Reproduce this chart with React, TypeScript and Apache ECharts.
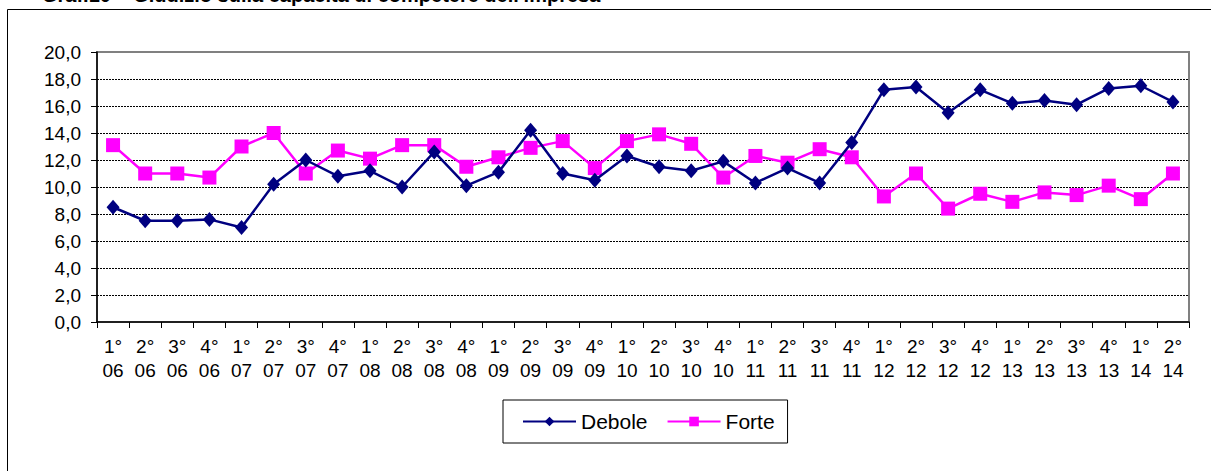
import React, { useEffect, useRef } from "react";
import * as echarts from "echarts";

const categories = [
  "1°\n06", "2°\n06", "3°\n06", "4°\n06",
  "1°\n07", "2°\n07", "3°\n07", "4°\n07",
  "1°\n08", "2°\n08", "3°\n08", "4°\n08",
  "1°\n09", "2°\n09", "3°\n09", "4°\n09",
  "1°\n10", "2°\n10", "3°\n10", "4°\n10",
  "1°\n11", "2°\n11", "3°\n11", "4°\n11",
  "1°\n12", "2°\n12", "3°\n12", "4°\n12",
  "1°\n13", "2°\n13", "3°\n13", "4°\n13",
  "1°\n14", "2°\n14",
];

const debole = [
  8.5, 7.5, 7.5, 7.6, 7.0, 10.2, 12.0, 10.8, 11.2, 10.0, 12.6, 10.1,
  11.1, 14.2, 11.0, 10.5, 12.3, 11.5, 11.2, 11.9, 10.3, 11.4, 10.3, 13.3,
  17.2, 17.4, 15.5, 17.2, 16.2, 16.4, 16.1, 17.3, 17.5, 16.3,
];

const forte = [
  13.1, 11.0, 11.0, 10.7, 13.0, 14.0, 11.0, 12.7, 12.1, 13.1, 13.1, 11.5,
  12.2, 12.9, 13.4, 11.4, 13.4, 13.9, 13.2, 10.7, 12.3, 11.8, 12.8, 12.2,
  9.3, 11.0, 8.4, 9.5, 8.9, 9.6, 9.4, 10.1, 9.1, 11.0,
];

const seriesNames = ["Debole", "Forte"];
const titleText = "Graf.10 – Giudizio sulla capacità di competere dell'impresa";

export default function App() {
  const ref = useRef<HTMLDivElement>(null);

  useEffect(() => {
    if (!ref.current) return;
    const chart = echarts.init(ref.current, null, { renderer: "svg" });
    const font = "Arial, 'Liberation Sans', sans-serif";
    chart.setOption({
      animation: false,
      backgroundColor: "#ffffff",
      textStyle: { fontFamily: font },
      graphic: [
        {
          type: "rect",
          shape: { x: 7.5, y: 9.5, width: 1400, height: 600 },
          style: { fill: "none", stroke: "#000", lineWidth: 1 },
          silent: true,
        },
        {
          type: "text",
          x: 42,
          y: 5,
          style: {
            text: titleText,
            font: "bold 20px Arial, 'Liberation Sans', sans-serif",
            fill: "#000",
            verticalAlign: "bottom",
          },
          silent: true,
        },
      ],
      grid: {
        left: 97,
        right: 22,
        top: 52,
        bottom: 149,
        show: true,
        borderColor: "#808080",
        borderWidth: 2,
        backgroundColor: "transparent",
        containLabel: false,
      },
      legend: {
        data: seriesNames,
        left: 503,
        top: 400,
        orient: "horizontal",
        itemWidth: 53,
        itemHeight: 12,
        itemGap: 19,
        padding: [11, 13, 11, 19],
        borderColor: "#000",
        borderWidth: 1,
        backgroundColor: "#fff",
        textStyle: { fontSize: 21, color: "#000", fontFamily: font, lineHeight: 21 },
      },
      xAxis: {
        type: "category",
        data: categories,
        boundaryGap: true,
        axisLine: { show: true, lineStyle: { color: "#000", width: 1.5 } },
        axisTick: { show: true, interval: 0, length: 6, lineStyle: { color: "#000", width: 1 } },
        axisLabel: {
          interval: 0,
          fontSize: 19,
          color: "#000",
          lineHeight: 24,
          margin: 12,
          fontFamily: font,
        },
        splitLine: { show: false },
      },
      yAxis: {
        type: "value",
        min: 0,
        max: 20,
        interval: 2,
        axisLine: { show: true, lineStyle: { color: "#000", width: 1.5 } },
        axisTick: { show: true, length: 6, lineStyle: { color: "#000", width: 1 } },
        axisLabel: {
          fontSize: 19,
          color: "#000",
          margin: 16,
          fontFamily: font,
          formatter: (v: number) => v.toFixed(1).replace(".", ","),
        },
        splitLine: {
          show: true,
          showMinLine: false,
          showMaxLine: false,
          lineStyle: { color: "#000", width: 1, type: [2, 1] },
        },
      },
      series: [
        {
          name: seriesNames[0],
          type: "line",
          data: debole,
          symbol: "diamond",
          symbolSize: [13, 15],
          itemStyle: { color: "#000080" },
          lineStyle: { color: "#000080", width: 2.5 },
          z: 3,
        },
        {
          name: seriesNames[1],
          type: "line",
          data: forte,
          symbol: "rect",
          symbolSize: 14,
          itemStyle: { color: "#ff00ff" },
          lineStyle: { color: "#ff00ff", width: 2.5 },
          z: 2,
        },
      ],
    });
    return () => chart.dispose();
  }, []);

  return (
    <div
      ref={ref}
      style={{ position: "fixed", left: 0, top: 0, width: 1211, height: 471 }}
    />
  );
}
